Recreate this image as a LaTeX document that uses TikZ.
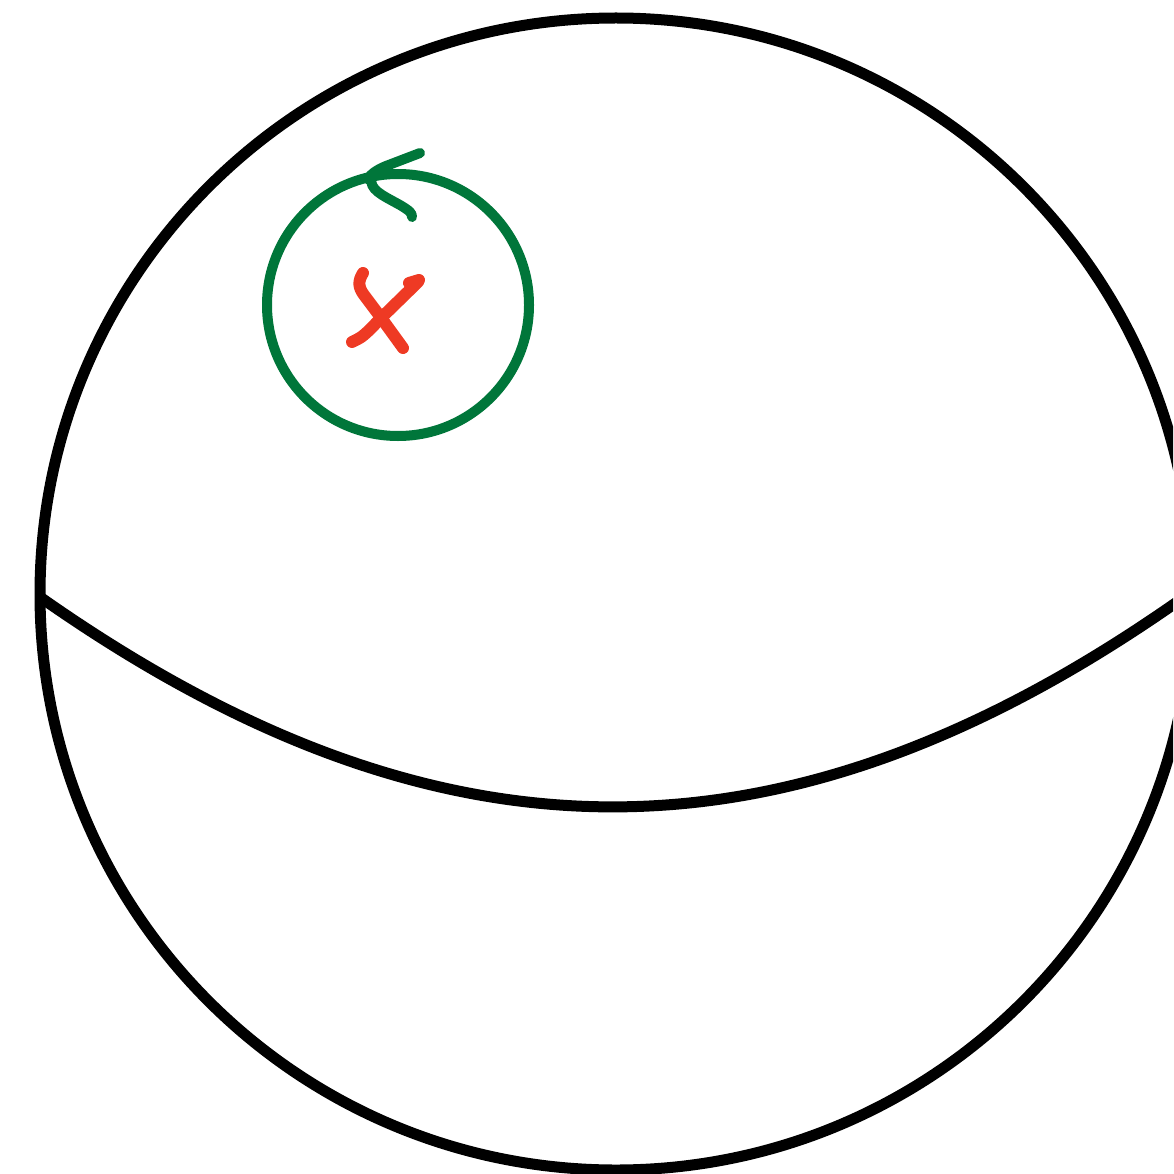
\documentclass[tikz,border=0pt]{standalone}
\usetikzlibrary{calc}

\definecolor{orbitgreen}{RGB}{0,118,58}
\definecolor{crossred}{RGB}{238,58,36}

\begin{document}
\begin{tikzpicture}[
    x=1pt, y=-1pt,
    sphere/.style={draw=black, line width=11pt},
    orbit/.style={draw=orbitgreen, line width=10pt},
    orbitarrow/.style={orbit, line cap=round, line join=round},
    cross/.style={draw=crossred, line width=12pt, line cap=round, line join=round}
]
\useasboundingbox (0,0) rectangle (1173,1174);
\clip (0,0) rectangle (1173,1174);

% the sphere and its equator
\coordinate (centre) at (616,594);
\draw[sphere] (centre) circle[radius=576];
\coordinate (eqleft) at (40,597);
\coordinate (eqright) at (1194,590);
\draw[sphere] (eqleft) .. controls (440,878) and (792,878) .. (eqright);

% small circle round the point
\coordinate (pole) at (398,305);
\draw[orbit] (pole) circle[radius=131];

% arrowhead on the small circle
\coordinate (tip) at (371,177);
\draw[orbitarrow] (420,153) -- (386,166) .. controls (366,174) and (366,184) .. (tip);
\draw[orbitarrow] (tip) .. controls (370,190) and (380,194) .. (400,205)
    .. controls (410,211) and (412,213) .. (412,217);

% the point itself
\draw[cross] (363,273) .. controls (358,281) and (358,287) .. (364,295) -- (382,319) -- (403,348);
\draw[cross] (419,280) -- (409,283);
\draw[cross] (418,282) -- (378,321) .. controls (368,332) and (362,337) .. (358,339) -- (352,342);
\end{tikzpicture}
\end{document}
